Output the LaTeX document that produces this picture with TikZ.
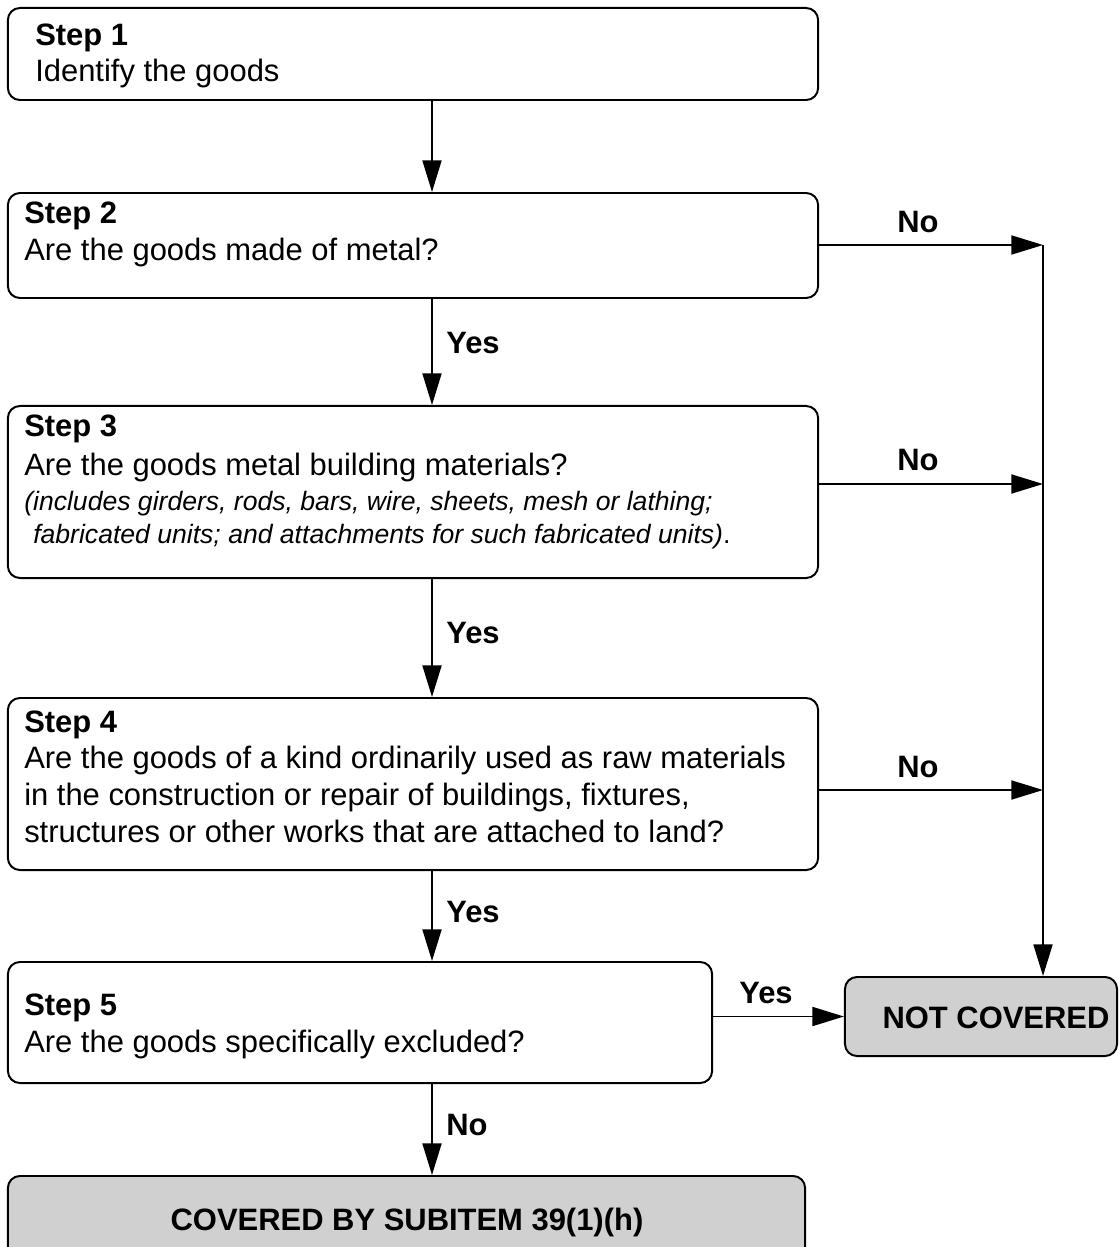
\documentclass[tikz,border=0pt]{standalone}
\usepackage{fontspec}
\setmainfont{Liberation Sans}
\usetikzlibrary{arrows.meta}
\definecolor{boxgray}{HTML}{D0D0D0}

\tikzset{
  stepbox/.style={draw, line width=1.4pt, rounded corners=0.3cm, inner sep=0pt},
  endbox/.style={stepbox, fill=boxgray},
  head/.style={anchor=base west, inner sep=0pt, font=\fontsize{22}{26}\selectfont\bfseries},
  body/.style={anchor=base west, inner sep=0pt, font=\fontsize{22}{26}\selectfont},
  note/.style={anchor=base west, inner sep=0pt, font=\fontsize{18.9}{22}\selectfont\itshape},
  lbl/.style={inner sep=0pt, font=\fontsize{22}{26}\selectfont\bfseries},
  flow/.style={line width=1.4pt, -{Triangle[length=22.5pt,width=13.5pt]}},
}

\begin{document}
\begin{tikzpicture}[x=0.025cm, y=-0.025cm]
    \useasboundingbox (0,0) rectangle (1119,1247);

    % step boxes
    \node[stepbox, minimum width=20.25cm, minimum height=2.3cm] (s1) at (413,54) {};
    \node[stepbox, minimum width=20.25cm, minimum height=2.625cm] (s2) at (413,245.5) {};
    \node[stepbox, minimum width=20.25cm, minimum height=4.3cm] (s3) at (413,492) {};
    \node[stepbox, minimum width=20.25cm, minimum height=4.3cm] (s4) at (413,784) {};
    \node[stepbox, minimum width=17.6cm, minimum height=3.025cm] (s5) at (360,1022.5) {};

    % outcome boxes
    \node[endbox, minimum width=6.8cm, minimum height=1.975cm] (nc) at (981,1016.5) {};
    \node[endbox, minimum width=19.925cm, minimum height=2.85cm] (cov) at (406.5,1233) {};
    \node[lbl] (nctext) at (996,1018) {NOT COVERED};
    \node[lbl] (covtext) at (407,1222) {COVERED BY SUBITEM 39(1)(h)};

    % texts in the boxes
    \node[head] (s1h) at (35,46) {Step 1};
    \node[body] (s1b) at (35,82) {Identify the goods};
    \node[head] (s2h) at (24,224) {Step 2};
    \node[body] (s2b) at (24,260) {Are the goods made of metal?};
    \node[head] (s3h) at (24,436) {Step 3};
    \node[body] (s3b) at (24,475) {Are the goods metal building materials?};
    \node[note] (s3n1) at (24,510) {(includes girders, rods, bars, wire, sheets, mesh or lathing;};
    \node[note] (s3n2) at (33,543) {fabricated units; and attachments for such fabricated units)\upshape.};
    \node[head] (s4h) at (24,732) {Step 4};
    \node[body] (s4b1) at (24,768) {Are the goods of a kind ordinarily used as raw materials};
    \node[body] (s4b2) at (24,805) {in the construction or repair of buildings, fixtures,};
    \node[body] (s4b3) at (24,842) {structures or other works that are attached to land?};
    \node[head] (s5h) at (24,1015) {Step 5};
    \node[body] (s5b) at (24,1052) {Are the goods specifically excluded?};

    % main line down the steps
    \coordinate (spine) at (432,0);
    \draw[flow] (s1.south -| spine) -- (s2.north -| spine);
    \draw[flow] (s2.south -| spine) -- (s3.north -| spine);
    \draw[flow] (s3.south -| spine) -- (s4.north -| spine);
    \draw[flow] (s4.south -| spine) -- (s5.north -| spine);
    \draw[flow] (s5.south -| spine) -- (cov.north -| spine);
    \node[lbl] (yes2) at (473,343) {Yes};
    \node[lbl] (yes3) at (473,633) {Yes};
    \node[lbl] (yes4) at (473,912) {Yes};
    \node[lbl] (no5) at (467,1125) {No};

    % the No branches
    \coordinate (no2) at (1043,245);
    \coordinate (no3) at (1043,484);
    \coordinate (no4) at (1043,790);
    \draw[flow] (s2.east |- no2) -- (no2);
    \draw[flow] (s3.east |- no3) -- (no3);
    \draw[flow] (s4.east |- no4) -- (no4);
    \draw[flow] (no2) -- (nc.north -| no2);
    \node[lbl] (no2l) at (918,222) {No};
    \node[lbl] (no3l) at (918,460) {No};
    \node[lbl] (no4l) at (918,767) {No};

    \draw[flow] (s5.east |- nc.west) -- (nc.west);
    \node[lbl] (yes5) at (766,993) {Yes};
\end{tikzpicture}
\end{document}
